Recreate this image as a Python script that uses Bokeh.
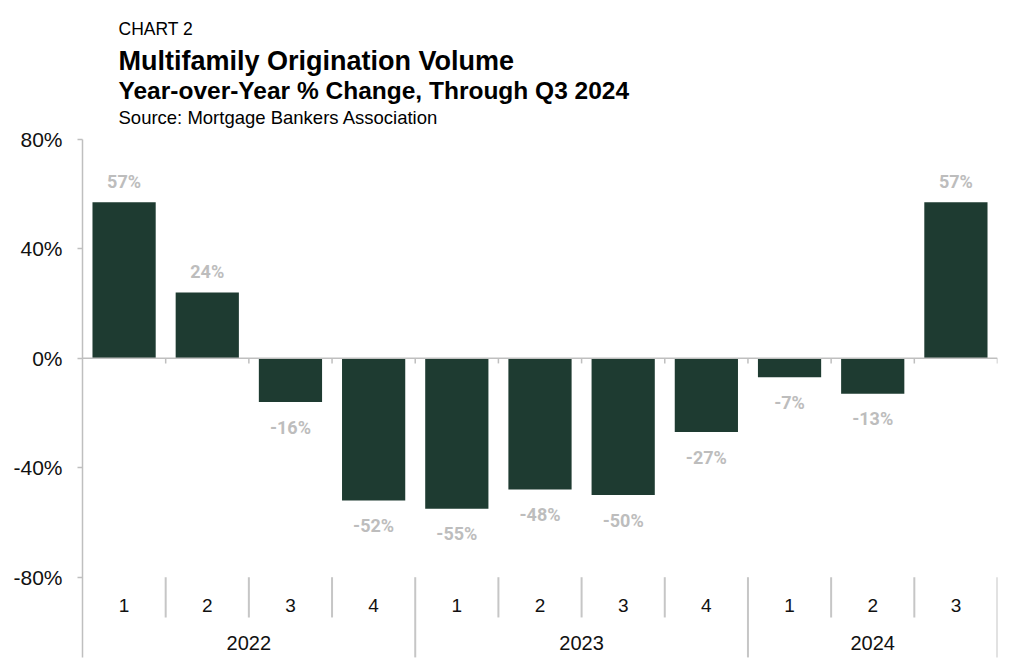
from bokeh.plotting import figure
from bokeh.models import (ColumnDataSource, FactorRange, Range1d, FixedTicker,
                          PrintfTickFormatter, Span, Label)
from bokeh.core.properties import value
from bokeh.embed import file_html
from bokeh.resources import INLINE

# ---- data ----
years = ["2022", "2022", "2022", "2022", "2023", "2023", "2023", "2023", "2024", "2024", "2024"]
quarters = ["1", "2", "3", "4", "1", "2", "3", "4", "1", "2", "3"]
changes = [57, 24, -16, -52, -55, -48, -50, -27, -7, -13, 57]
year_groups = ["2022", "2023", "2024"]
y_ticks = [-80, -40, 0, 40, 80]

BAR = "#1e3b31"
AXIS = "#bfbfbf"
SEP = "#c6c6c6"
LABEL = "#bdbdbd"

# layout constants (data units on the value axis)
Y_TOP, Y_BOTTOM = 130.67, -110.79
AX_BOTTOM = -109.3
Q_LABEL_Y, YEAR_LABEL_Y, Q_SEP_END = -90.3, -104.2, -94.7

factors = list(zip(years, quarters))
labels = [f"{v}%" for v in changes]
offsets = [-21 if v >= 0 else 25 for v in changes]

src = ColumnDataSource(dict(x=factors, v=changes, label=labels, yoff=offsets, q=quarters))

# category boundaries (right edge of each category)
bx = [(y, q, 0.5) for y, q in factors]
is_year_end = [i == len(years) - 1 or years[i + 1] != years[i] for i in range(len(years))]
q_sep = [b for b, e in zip(bx, is_year_end) if not e]
y_sep = [b for b, e in zip(bx, is_year_end) if e]

p = figure(width=1024, height=661,
           x_range=FactorRange(*factors, factor_padding=0, group_padding=0, range_padding=0),
           y_range=Range1d(Y_BOTTOM, Y_TOP),
           output_backend="svg", toolbar_location=None, x_axis_location=None,
           min_border_left=82, min_border_right=27, min_border_top=0, min_border_bottom=0)

p.background_fill_color = "white"
p.border_fill_color = "white"
p.outline_line_color = None
p.grid.visible = False

# bars
p.vbar(x="x", top="v", bottom=0, width=0.76, source=src, fill_color=BAR, line_color=None)

# zero line + boundary ticks
p.add_layout(Span(location=0, dimension="width", line_color=AXIS, line_width=1.5))
p.segment(x0=bx, y0=[0] * len(bx), x1=bx, y1=[-1.9] * len(bx), line_color=AXIS, line_width=1.5)

# value labels
p.text(x="x", y="v", text="label", y_offset="yoff", source=src,
       text_align="center", text_baseline="middle",
       text_font=value("Roboto"), text_font_style="bold", text_font_size="18px",
       text_color=LABEL)

# category axis (quarters / years)
p.segment(x0=q_sep, y0=[-80] * len(q_sep), x1=q_sep, y1=[Q_SEP_END] * len(q_sep),
          line_color=SEP, line_width=2)
p.segment(x0=y_sep, y0=[-80] * len(y_sep), x1=y_sep, y1=[AX_BOTTOM] * len(y_sep),
          line_color=SEP, line_width=2)
p.text(x="x", y=Q_LABEL_Y, text="q", source=src, text_align="center", text_baseline="middle",
       text_font=value("Liberation Sans"), text_font_size="19px", text_color="#111111")
p.text(x=year_groups, y=[YEAR_LABEL_Y] * len(year_groups), text=year_groups,
       text_align="center", text_baseline="middle",
       text_font=value("Liberation Sans"), text_font_size="20px", text_color="#111111")

# y axis
ya = p.yaxis[0]
ya.bounds = (AX_BOTTOM, 80)
ya.ticker = FixedTicker(ticks=y_ticks)
ya.formatter = PrintfTickFormatter(format="%d%%")
ya.major_label_text_font = "Liberation Sans"
ya.major_label_text_font_size = "21px"
ya.major_label_text_color = "#111111"
ya.axis_line_color = AXIS
ya.axis_line_width = 1.5
ya.major_tick_line_color = AXIS
ya.major_tick_line_width = 1.5
ya.major_tick_out = 5
ya.major_tick_in = 0
ya.minor_tick_line_color = None
ya.major_label_standoff = 15

# titles
def add_label(text, y, size, style):
    p.add_layout(Label(x=36, y=y, x_units="screen", y_units="data", text=text,
                       text_font="Liberation Sans", text_font_size=size,
                       text_font_style=style, text_color="#000000",
                       text_baseline="alphabetic", text_align="left"))

add_label("CHART 2", 120.2, "17.5px", "normal")
add_label("Multifamily Origination Volume", 108.5, "27px", "bold")
add_label("Year-over-Year % Change, Through Q3 2024", 97.9, "24.5px", "bold")
add_label("Source: Mortgage Bankers Association", 88.0, "18.5px", "normal")

open("out.html", "w").write(file_html(p, INLINE))
